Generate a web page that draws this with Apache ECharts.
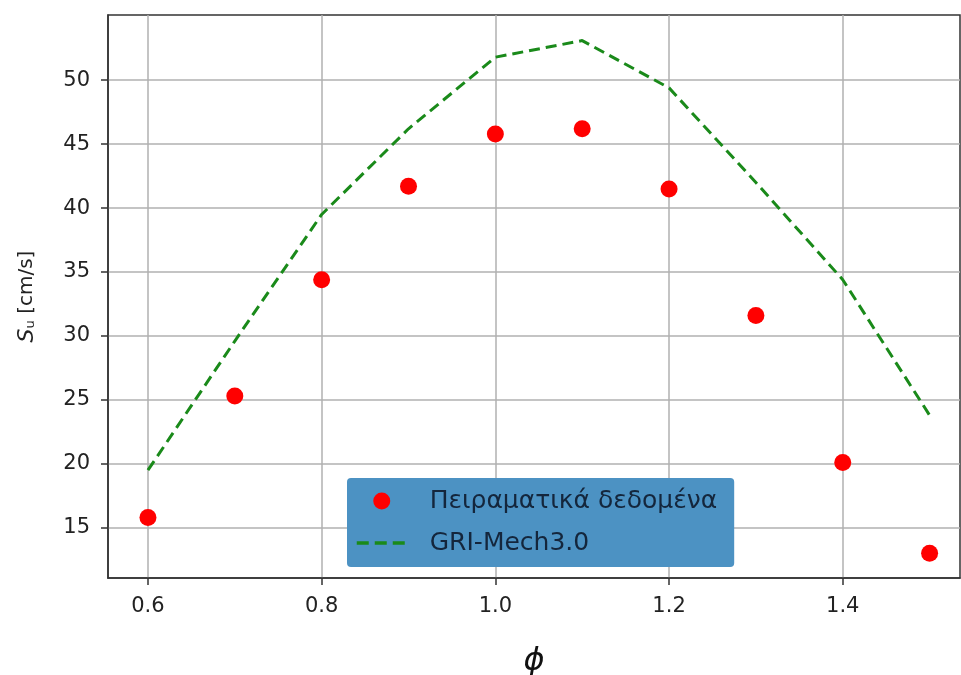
<!DOCTYPE html>
<html>
<head>
<meta charset="utf-8">
<script src="https://cdn.jsdelivr.net/npm/echarts@6/dist/echarts.min.js"></script>
<style>
html, body { margin: 0; padding: 0; background: #fff; }
#chart { width: 961px; height: 675px; }
</style>
</head>
<body>
<div id="chart"></div>
<script>
// φ values
const phi = [0.6, 0.7, 0.8, 0.9, 1.0, 1.1, 1.2, 1.3, 1.4, 1.5]
// Πειραματικά δεδομένα (cm/s)
const expData = [15.8, 25.3, 34.4, 41.7, 45.8, 46.2, 41.5, 31.6, 20.1, 13.0]
// GRI-Mech3.0 (cm/s)
const griData = [19.5, 29.6, 39.5, 46.2, 51.8, 53.1, 49.4, 42.0, 34.4, 23.8]
const xTicks = [0.6, 0.8, 1.0, 1.2, 1.4]
const yTicks = [15, 20, 25, 30, 35, 40, 45, 50]

const font = "DejaVu Sans"
const chart = echarts.init(document.getElementById("chart"))

chart.setOption({
    animation: false,
    backgroundColor: "#fff",
    grid: {
        left: 108,
        right: 1,
        top: 15,
        bottom: 97,
        outerBoundsMode: "none",
        show: true,
        borderColor: "#333",
        borderWidth: 1.5
    },
    legend: {
        orient: "vertical",
        left: 347,
        top: 478,
        backgroundColor: "#4c92c3",
        borderRadius: 4,
        padding: [9, 17, 10, 8],
        itemWidth: 50,
        itemHeight: 17,
        itemGap: 14,
        textStyle: {
            fontFamily: font,
            fontSize: 25,
            lineHeight: 28,
            color: "#14263c",
            padding: [0, 0, 0, 18]
        },
        data: [
            { name: "Πειραματικά δεδομένα" },
            {
                name: "GRI-Mech3.0",
                itemStyle: { opacity: 0 },
                lineStyle: { color: "#1a8a1a", width: 3.5, type: [12, 6] }
            }
        ]
    },
    xAxis: {
        type: "value",
        min: 0.554,
        max: 1.535,
        name: "ϕ",
        nameLocation: "middle",
        nameGap: 68,
        nameTextStyle: {
            fontFamily: font,
            fontStyle: "italic",
            fontSize: 32,
            color: "#111"
        },
        axisLine: { show: true, onZero: false, lineStyle: { color: "#333", width: 1.5 } },
        axisTick: { show: true, length: 7, customValues: xTicks, lineStyle: { color: "#333", width: 1.5 } },
        axisLabel: {
            customValues: xTicks,
            margin: 18,
            fontFamily: font,
            fontSize: 21,
            color: "#222",
            formatter: v => v.toFixed(1)
        },
        splitLine: { show: true, lineStyle: { color: "#b0b0b0", width: 1.5 } }
    },
    yAxis: {
        type: "value",
        min: 11.07,
        max: 55.1,
        name: "{i|S}{s|u} [cm/s]",
        nameLocation: "middle",
        nameGap: 70,
        nameTextStyle: {
            fontFamily: font,
            fontSize: 20,
            color: "#222",
            rich: {
                i: { fontFamily: font, fontStyle: "italic", fontSize: 22, color: "#222" },
                s: { fontFamily: font, fontSize: 13, color: "#222", padding: [8, 0, 0, 0] }
            }
        },
        axisLine: { show: true, onZero: false, lineStyle: { color: "#333", width: 1.5 } },
        axisTick: { show: true, length: 7, customValues: yTicks, lineStyle: { color: "#333", width: 1.5 } },
        axisLabel: {
            customValues: yTicks,
            margin: 18,
            fontFamily: font,
            fontSize: 21,
            color: "#222"
        },
        splitLine: { show: true, lineStyle: { color: "#b0b0b0", width: 1.5 } }
    },
    series: [
        {
            name: "Πειραματικά δεδομένα",
            type: "scatter",
            symbol: "circle",
            symbolSize: 17,
            symbolKeepAspect: true,
            itemStyle: { color: "#ff0000", opacity: 1 },
            data: phi.map((p, i) => [p, expData[i]]),
            z: 3
        },
        {
            name: "GRI-Mech3.0",
            type: "line",
            showSymbol: false,
            symbol: "none",
            lineStyle: { color: "#1a8a1a", width: 3, type: [11, 6] },
            itemStyle: { color: "#1a8a1a" },
            data: phi.map((p, i) => [p, griData[i]]),
            z: 2
        }
    ]
})
</script>
</body>
</html>
